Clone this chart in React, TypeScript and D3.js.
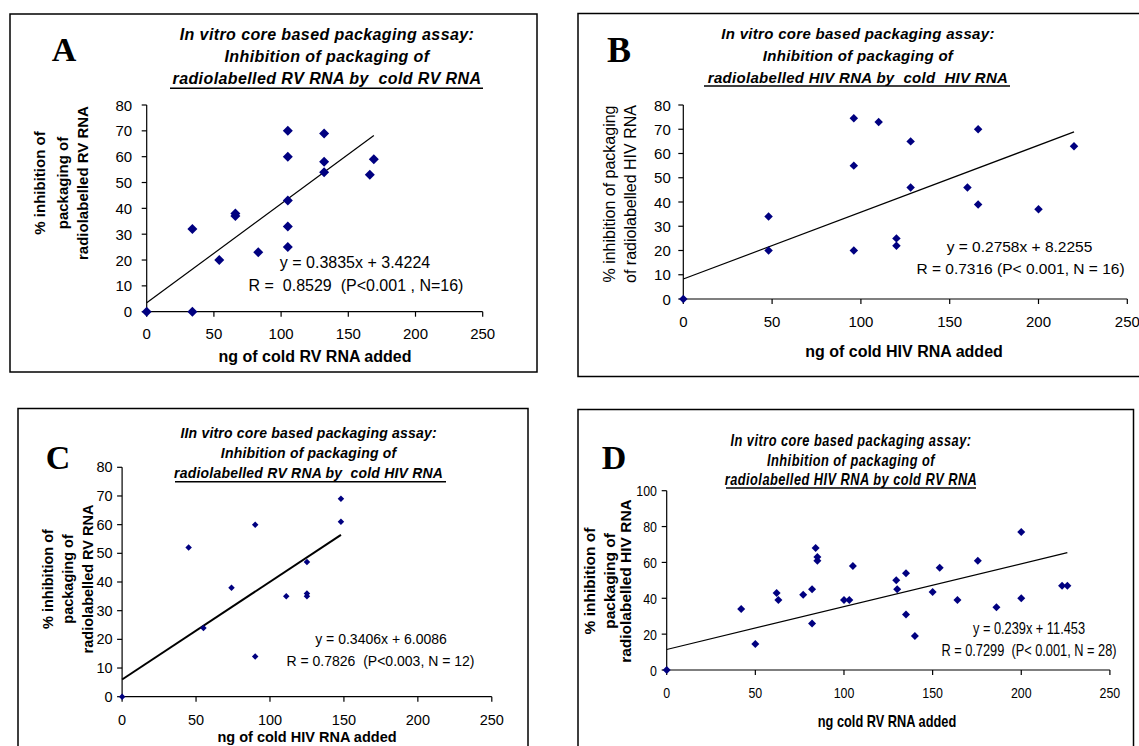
import React from "react";
import * as d3 from "d3";

// ---- data ----
// A: radiolabelled RV RNA inhibited by cold RV RNA
const aDose = [0, 34, 34, 54, 66, 66, 83, 105, 105, 105, 105, 105, 132, 132, 132, 166, 169];
const aInhib = [0, 0, 32, 20, 38, 37, 23, 70, 60, 43, 33, 25, 69, 58, 54, 53, 59];
const aFit = [0.3835, 3.4224];

// B: radiolabelled HIV RNA inhibited by cold HIV RNA
const bDose = [0, 48, 48, 96, 96, 96, 110, 120, 120, 128, 128, 160, 166, 166, 200, 220];
const bInhib = [0, 34, 20, 74.5, 55, 20, 73, 25, 22, 65, 46, 46, 70, 39, 37, 63];
const bFit = [0.2758, 8.2255];

// C: radiolabelled RV RNA inhibited by cold HIV RNA
const cDose = [0, 45, 55, 74, 90, 90, 111, 125, 125, 125, 148, 148];
const cInhib = [0, 52, 24, 38, 60, 14, 35, 47, 36, 35, 69, 61];
const cFit = [0.3406, 6.0086];

// D: radiolabelled HIV RNA inhibited by cold RV RNA
const dDose = [0, 42, 50, 62, 63, 77, 82, 82, 84, 85, 85, 100, 103, 105, 129.5, 130, 135, 135, 140, 150, 154, 164, 175.5, 186, 200, 200, 223, 226];
const dInhib = [0, 34, 14.5, 43, 39, 42, 45, 26, 68, 63, 61, 39, 39, 58, 50, 45, 54, 31, 19, 43.5, 57, 39, 61, 35, 77, 40, 47, 47];
const dFit = [0.239, 11.453];

const xTicks = [0, 50, 100, 150, 200, 250];
const yTicks80 = [0, 10, 20, 30, 40, 50, 60, 70, 80];
const yTicks100 = [0, 20, 40, 60, 80, 100];

const SANS = "'Liberation Sans', Arial, sans-serif";
const SERIF = "'Liberation Serif', 'Times New Roman', serif";
const NAVY = "#000080";

const panels = [
  {
    letter: "A", letterPos: [64, 61], letterSize: 34,
    frame: [10, 14, 527, 358],
    dose: aDose, inhib: aInhib, fit: aFit, yMax: 80, yTicks: yTicks80,
    xRange: [146.7, 482.7], yRange: [311.7, 105],
    sq: 1, tickSize: 15, marker: 10, fitWidth: 1.2,
    title: ["In vitro core based packaging assay:", "Inhibition of packaging of", "radiolabelled RV RNA by  cold RV RNA"],
    titleX: 327, titleY: [34, 56, 78], titleSize: 16, titleSpacing: 0.4, underline: [170, 483, 88.3],
    yTitle: ["% inhibition of", "packaging of", "radiolabelled RV RNA"], yTitleX: [39, 62, 82], yTitleY: 183,
    yTitleSize: 15, yTitleBold: true,
    xTitle: "ng of cold RV RNA added", xTitlePos: [315, 356], xTitleSize: 16,
    tickLabelY: 333, yLabelGap: 14.5,
    eq: ["y = 0.3835x + 3.4224", "R =  0.8529  (P<0.001 , N=16)"], eqX: [355, 356], eqY: [262, 285], eqSize: 16,
  },
  {
    letter: "B", letterPos: [619, 62], letterSize: 36,
    frame: [578, 13.5, 600, 363],
    dose: bDose, inhib: bInhib, fit: bFit, yMax: 80, yTicks: yTicks80,
    xRange: [683.3, 1127.3], yRange: [299, 105],
    sq: 1, tickSize: 15, marker: 8.5, fitWidth: 1.2,
    title: ["In vitro core based packaging assay:", "Inhibition of packaging of", "radiolabelled HIV RNA by  cold  HIV RNA"],
    titleX: 858, titleY: [33, 55, 77], titleSize: 15, titleSpacing: 0.3, underline: [704, 1010, 86],
    yTitle: ["% inhibition of packaging", "of radiolabelled HIV RNA"], yTitleX: [609, 630.5], yTitleY: 194,
    yTitleSize: 16, yTitleBold: false,
    xTitle: "ng of cold HIV RNA added", xTitlePos: [904, 351.7], xTitleSize: 16,
    tickLabelY: 321.7, yLabelGap: 12.5,
    eq: ["y = 0.2758x + 8.2255", "R = 0.7316 (P< 0.001, N = 16)"], eqX: [1019.5, 1020.5], eqY: [246.7, 268], eqSize: 15.5,
  },
  {
    letter: "C", letterPos: [58, 469], letterSize: 34,
    frame: [18, 408.5, 510, 400],
    dose: cDose, inhib: cInhib, fit: cFit, yMax: 80, yTicks: yTicks80,
    xRange: [122.1, 491.8], yRange: [696.7, 467.3],
    sq: 1, tickSize: 14.5, marker: 6.5, fitWidth: 2,
    title: ["IIn vitro core based packaging assay:", "Inhibition of packaging of", "radiolabelled RV RNA by  cold HIV RNA"],
    titleX: 308.6, titleY: [433.3, 453, 473], titleSize: 14, titleSpacing: 0.2, underline: [175, 446, 481.7],
    yTitle: ["% inhibition of", "packaging of", "radiolabelled RV RNA"], yTitleX: [48, 68, 87.5], yTitleY: 579,
    yTitleSize: 14.5, yTitleBold: true,
    xTitle: "ng of cold HIV RNA added", xTitlePos: [307, 736.7], xTitleSize: 14.5,
    tickLabelY: 720, yLabelGap: 9.5,
    eq: ["y = 0.3406x + 6.0086", "R = 0.7826  (P<0.003, N = 12)"], eqX: [381, 380.5], eqY: [639, 661], eqSize: 14,
  },
  {
    // this panel uses a condensed face in the original
    letter: "D", letterPos: [614, 469], letterSize: 34,
    frame: [578, 409.5, 555.5, 400],
    dose: dDose, inhib: dInhib, fit: dFit, yMax: 100, yTicks: yTicks100,
    xRange: [666.7, 1109.9], yRange: [670, 490.7],
    sq: 0.8, tickSize: 15.5, marker: 8, fitWidth: 1.2,
    title: ["In vitro core based packaging assay:", "Inhibition of packaging of", "radiolabelled HIV RNA by cold RV RNA"],
    titleX: 851, titleY: [440, 460, 479], titleSize: 16, titleSpacing: 0.6, underline: [726, 976, 488],
    yTitle: ["% inhibition of", "packaging of", "radiolabelled HIV RNA"], yTitleX: [589.5, 609, 625.5], yTitleY: 581,
    yTitleSize: 15.5, yTitleBold: true,
    xTitle: "ng cold RV RNA added", xTitlePos: [887, 721.7], xTitleSize: 16,
    tickLabelY: 692, yLabelGap: 9.7,
    eq: ["y = 0.239x + 11.453", "R = 0.7299  (P< 0.001, N = 28)"], eqX: [1029, 1029], eqY: [628, 650], eqSize: 16,
  },
];

// text placed at (x, y), squeezed horizontally by sq
function Label({ x, y, sq = 1, rot = 0, children, ...rest }: any) {
  return (
    <text transform={`translate(${x},${y}) rotate(${rot}) scale(${sq},1)`} dominantBaseline="central"
      style={{ whiteSpace: "pre" }} {...rest}>{children}</text>
  );
}

function Panel({ c }: { c: any }) {
  const x = d3.scaleLinear().domain([0, 250]).range(c.xRange);
  const y = d3.scaleLinear().domain([0, c.yMax]).range(c.yRange);
  const diamond = d3.symbol().type(d3.symbolSquare).size((c.marker * c.marker) / 2)();
  const xEnd = d3.max(c.dose as number[]) as number;
  const fitLine = d3
    .line<number>()
    .x((v) => x(v))
    .y((v) => y(c.fit[0] * v + c.fit[1]))([0, xEnd]);
  const [fx, fy, fw, fh] = c.frame;
  const x0 = x(0);
  const y0 = y(0);

  return (
    <g fontFamily={SANS} fill="#000">
      <rect x={fx} y={fy} width={fw} height={fh} fill="none" stroke="#000" strokeWidth={1.5} />
      <text x={c.letterPos[0]} y={c.letterPos[1]} textAnchor="middle" fontFamily={SERIF}
        fontWeight="bold" fontSize={c.letterSize}>{c.letter}</text>

      {c.title.map((t: string, i: number) => (
        <Label key={i} x={c.titleX} y={c.titleY[i]} sq={c.sq} textAnchor="middle"
          fontWeight="bold" fontStyle="italic" fontSize={c.titleSize} letterSpacing={c.titleSpacing}>{t}</Label>
      ))}
      <line x1={c.underline[0]} x2={c.underline[1]} y1={c.underline[2]} y2={c.underline[2]}
        stroke="#000" strokeWidth={1.6} />

      {/* axes */}
      <line x1={x0} x2={x(250)} y1={y0} y2={y0} stroke="#000" strokeWidth={1.2} />
      <line x1={x0} x2={x0} y1={y0} y2={y(c.yMax)} stroke="#000" strokeWidth={1.2} />
      {xTicks.map((t) => (
        <g key={"x" + t}>
          <line x1={x(t)} x2={x(t)} y1={y0} y2={y0 + 5} stroke="#000" strokeWidth={1.2} />
          <Label x={x(t)} y={c.tickLabelY} sq={c.sq} textAnchor="middle" fontSize={c.tickSize}>{t}</Label>
        </g>
      ))}
      {c.yTicks.map((t: number) => (
        <g key={"y" + t}>
          <line x1={x0 - 5} x2={x0} y1={y(t)} y2={y(t)} stroke="#000" strokeWidth={1.2} />
          <Label x={x0 - c.yLabelGap} y={y(t)} sq={c.sq} textAnchor="end" fontSize={c.tickSize}>{t}</Label>
        </g>
      ))}

      <Label x={c.xTitlePos[0]} y={c.xTitlePos[1]} sq={c.sq} textAnchor="middle"
        fontWeight="bold" fontSize={c.xTitleSize}>{c.xTitle}</Label>
      {c.yTitle.map((t: string, i: number) => (
        <Label key={i} x={c.yTitleX[i]} y={c.yTitleY} rot={-90} textAnchor="middle"
          fontWeight={c.yTitleBold ? "bold" : "normal"} fontSize={c.yTitleSize}>{t}</Label>
      ))}

      <path d={fitLine || ""} fill="none" stroke="#000" strokeWidth={c.fitWidth} />
      {c.dose.map((d: number, i: number) => (
        <path key={i} d={diamond || ""} fill={NAVY}
          transform={`translate(${x(d)},${y(c.inhib[i])}) rotate(45)`} />
      ))}

      {c.eq.map((t: string, i: number) => (
        <Label key={i} x={c.eqX[i]} y={c.eqY[i]} sq={c.sq} textAnchor="middle" fontSize={c.eqSize}>{t}</Label>
      ))}
    </g>
  );
}

export default function App() {
  return (
    <svg width={1139} height={746} style={{ position: "absolute", left: 0, top: 0, background: "#fff" }}>
      <rect width={1139} height={746} fill="#fff" />
      {panels.map((c) => (
        <Panel key={c.letter} c={c} />
      ))}
    </svg>
  );
}
